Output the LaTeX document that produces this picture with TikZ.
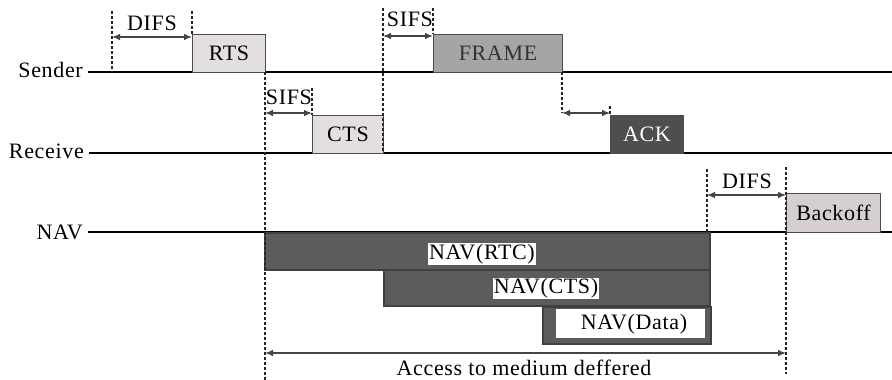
\documentclass[tikz,border=0pt]{standalone}
\usepackage{fontspec}
\setmainfont[LetterSpace=3]{Liberation Serif}
\usetikzlibrary{arrows.meta}

\definecolor{lightbox}{HTML}{E3DFDF}
\definecolor{framebox}{HTML}{A6A4A4}
\definecolor{ackbox}{HTML}{4E4E4E}
\definecolor{navfill}{HTML}{5C5C5C}
\definecolor{backoffbox}{HTML}{D6CFCF}
\definecolor{dimgray}{HTML}{444444}

\begin{document}
\begin{tikzpicture}[x=1pt,y=-1pt,
  font=\fontsize{22}{24}\selectfont,
  lbl/.style={anchor=east, inner xsep=5pt, inner ysep=0pt},
  timeline/.style={line width=2.6pt, black},
  guide/.style={line width=1.3pt, black!85, dash pattern=on 3pt off 2pt},
  dim/.style={line width=1.1pt, dimgray, {Latex[length=8pt,width=6.5pt]}-{Latex[length=8pt,width=6.5pt]}},
  pkt/.style={draw=black!70, line width=1pt, anchor=north west, inner sep=0pt},
  navbox/.style={draw=black!75, fill=navfill, line width=1.5pt, anchor=north west, inner sep=0pt},
  navlbl/.style={fill=white, inner xsep=1pt, inner ysep=1pt},
  tag/.style={inner sep=0pt}
]
\useasboundingbox (0,0) rectangle (892,380);

% ---- time lines ----
\node[lbl] (sender)  at (88,70)  {Sender};
\node[lbl] (receive) at (89,151) {Receive};
\node[lbl] (nav)     at (88,232) {NAV};
\coordinate (sEnd) at (892,72);
\coordinate (rEnd) at (892,153);
\coordinate (nEnd) at (892,232);
\coordinate (sStart) at (88,72);
\coordinate (rStart) at (89,153);
\coordinate (nStart) at (88,232);
\draw[timeline] (sStart) -- (sEnd);
\draw[timeline] (rStart) -- (rEnd);
\draw[timeline] (nStart) -- (nEnd);

% ---- NAV bars ----
\node[navbox, minimum width=445pt, minimum height=37pt] (navrtc) at (264,232) {};
\node[navbox, minimum width=326pt, minimum height=36pt] (navcts) at (383,269) {};
\node[navbox, minimum width=168pt, minimum height=37pt] (navdata) at (542,306) {};
\node[fill=white, anchor=north west, minimum width=149pt, minimum height=29pt, inner sep=0pt] (navdatain) at (556,309) {};
\node[navlbl] (lrtc) at (482,254) {NAV(RTC)};
\node[navlbl] (lcts) at (546,288.5) {NAV(CTS)};
\node[tag] (ldata) at (634,324) {NAV(Data)};

% ---- frames ----
\node[pkt, fill=lightbox, minimum width=73pt, minimum height=38pt] (rts) at (192,34) {RTS};
\node[pkt, fill=framebox, text=black!80, minimum width=129pt, minimum height=38pt] (frame) at (433,34) {FRAME};
\node[pkt, fill=lightbox, minimum width=71pt, minimum height=38pt] (cts) at (312,115) {CTS};
\node[pkt, fill=ackbox, text=white, minimum width=73pt, minimum height=38pt] (ack) at (610,115) {ACK};
\node[pkt, fill=backoffbox, minimum width=94pt, minimum height=39pt] (backoff) at (786,193) {Backoff};

% ---- guide lines ----
\coordinate (g1t) at (112,11);  \coordinate (g1b) at (112,72);
\coordinate (g2t) at (192,11);  \coordinate (g2b) at (192,34);
\coordinate (g3t) at (265,72);  \coordinate (g3b) at (265,380);
\coordinate (g4t) at (312,88);  \coordinate (g4b) at (312,115);
\coordinate (g5t) at (383,8);   \coordinate (g5b) at (383,153);
\coordinate (g6t) at (433,8);   \coordinate (g6b) at (433,34);
\coordinate (g7t) at (562,72);  \coordinate (g7b) at (562,113);
\coordinate (g8t) at (610,106); \coordinate (g8b) at (610,115);
\coordinate (g9t) at (707,169); \coordinate (g9b) at (707,232);
\coordinate (g10t) at (786,167); \coordinate (g10b) at (786,374);
\foreach \g in {1,...,10} {\draw[guide] (g\g t) -- (g\g b);}

% ---- interval arrows ----
\coordinate (d1a) at (112,37);  \coordinate (d1b) at (192,37);
\coordinate (d2a) at (265,113); \coordinate (d2b) at (312,113);
\coordinate (d3a) at (383,36);  \coordinate (d3b) at (433,36);
\coordinate (d4a) at (562,113); \coordinate (d4b) at (610,113);
\coordinate (d5a) at (707,195); \coordinate (d5b) at (786,195);
\coordinate (d6a) at (265,353); \coordinate (d6b) at (786,353);
\draw[dim] (d1a) -- (d1b);
\draw[dim] (d2a) -- (d2b);
\draw[dim] (d3a) -- (d3b);
\draw[dim] (d4a) -- (d4b);
\draw[dim] (d5a) -- (d5b);
\draw[dim] (d6a) -- (d6b);

% ---- interval labels ----
\node[tag] (tdifs1) at (152,23)   {DIFS};
\node[tag] (tsifs1) at (289,97)   {SIFS};
\node[tag] (tsifs2) at (410,19)   {SIFS};
\node[tag] (tdifs2) at (747,181)  {DIFS};
\node[tag] (tacc)   at (524,368)  {Access to medium deffered};
\end{tikzpicture}
\end{document}
